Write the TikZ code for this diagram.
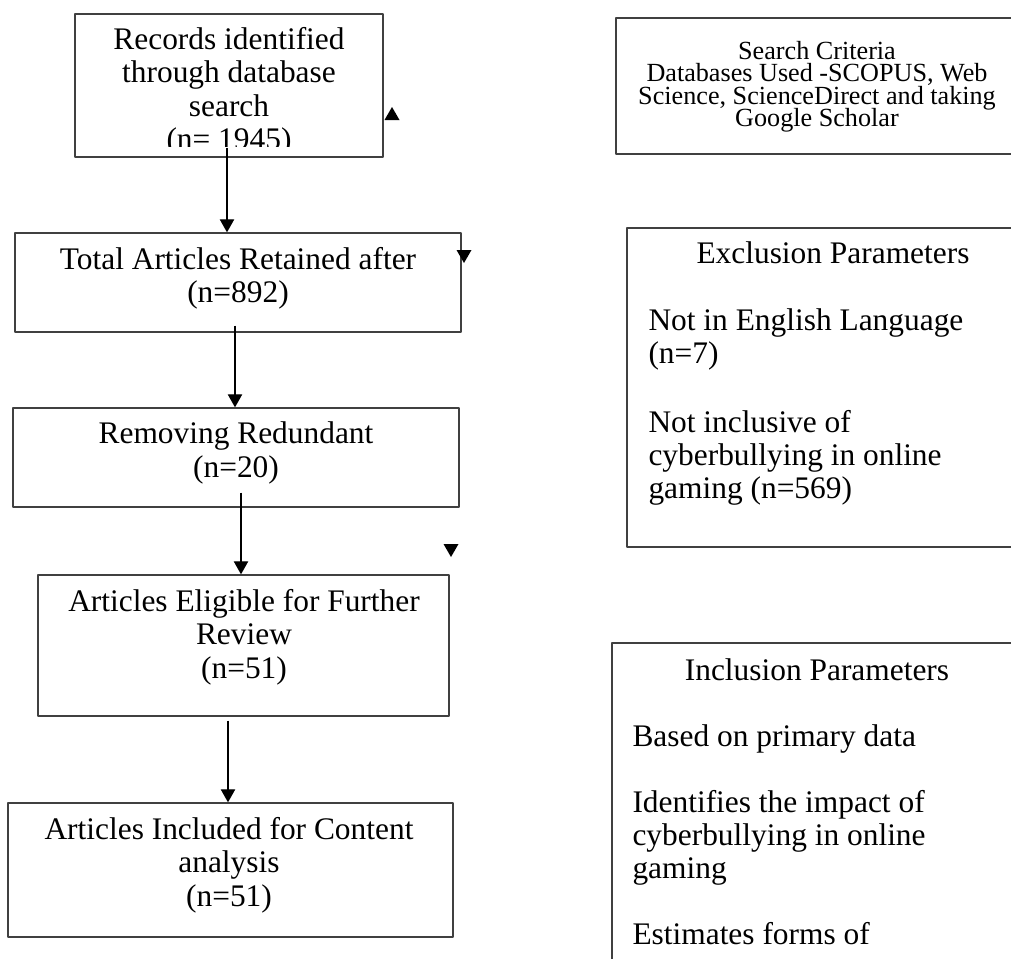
\documentclass[tikz,border=0pt]{standalone}
\usepackage{fontspec}
\setmainfont{Liberation Serif}
\usetikzlibrary{arrows.meta,fit}
\newcommand\criteriafont{\fontsize{10}{8.5}\selectfont\setlength{\lineskiplimit}{-100pt}}
\tikzset{
  box/.style={draw=black!75, line width=0.5pt, inner sep=0pt, fit={#1}},
  boxtext/.style={inner sep=0pt, anchor=north, align=center,
    font=\fontsize{12}{12.8}\selectfont},
  smalltext/.style={inner sep=0pt, anchor=north, align=center,
    font=\criteriafont},
  listtext/.style={inner sep=0pt, anchor=north west, align=left,
    font=\fontsize{12}{12.6}\selectfont},
  link/.style={draw=black, line width=0.5pt, -{Triangle[width=5.5pt,length=5pt]}}
}
\begin{document}
\begin{tikzpicture}[x=0.3821pt, y=-0.3821pt, line join=round]
	\clip (0,0) rectangle (1011,959);
	% left column
	\node[box={(75,14) (383,157)}] (records) {};
	\node[box={(15,233) (461,332)}] (retained) {};
	\node[box={(13,408) (459,507)}] (redundant) {};
	\node[box={(38,575) (449,716)}] (eligible) {};
	\node[box={(8,803) (453,937)}] (included) {};
	\begin{scope}
		\clip (75,14) rectangle (383,146);
		\node[boxtext] (records-text) at (229,26.5)
		{Records identified\\through database\\search\\(n= 1945)};
	\end{scope}
	\node[boxtext] (retained-text) at (238,246.6) {Total Articles Retained after\\(n=892)};
	\node[boxtext] (redundant-text) at (236,421.6) {Removing Redundant\\(n=20)};
	\node[boxtext] (eligible-text) at (244,588.6) {Articles Eligible for Further\\Review\\(n=51)};
	\node[boxtext] (included-text) at (229,816.6) {Articles Included for Content\\analysis\\(n=51)};
	
	% right column
	\node[box={(616,18) (1030,154)}] (criteria) {};
	\node[box={(627,228) (1030,547)}] (exclusion) {};
	\node[box={(612,643) (1030,990)}] (inclusion) {};
	\node[smalltext] (criteria-text) at (817,41)
	{Search Criteria\\Databases Used -SCOPUS, Web\\Science, ScienceDirect and taking\\Google Scholar};
	\node[boxtext] (exclusion-title) at (833,241.6) {Exclusion Parameters};
	\node[listtext] (exclusion-text) at (648,308.6)
	{Not in English Language\\(n=7)\\[13.5pt]Not inclusive of\\cyberbullying in online\\gaming (n=569)};
	\node[boxtext] (inclusion-title) at (817,658.6) {Inclusion Parameters};
	\node[listtext] (inclusion-text) at (632,724.6)
	{Based on primary data\\[12.6pt]Identifies the impact of\\cyberbullying in online\\gaming\\[12.6pt]Estimates forms of};
	
	% connectors
	\draw[link] ([shift={(-2,-10)}]records.south) coordinate (a1) -- (a1 |- retained.north);
	\draw[link] ([shift={(-3,-7)}]retained.south) coordinate (a2) -- (a2 |- redundant.north);
	\draw[link] ([shift={(5,-15)}]redundant.south) coordinate (a3) -- (a3 |- eligible.north);
	\draw[link] ([shift={(-15.5,4)}]eligible.south) coordinate (a4) -- (a4 |- included.north);
	
	% loose arrow tips
	\foreach \x/\y/\d in {392/107/1, 464/263/-1, 451/557/-1}
	\fill (\x,\y) -- ++(-7.5,13*\d) -- ++(15,0) -- cycle;
\end{tikzpicture}
\end{document}
